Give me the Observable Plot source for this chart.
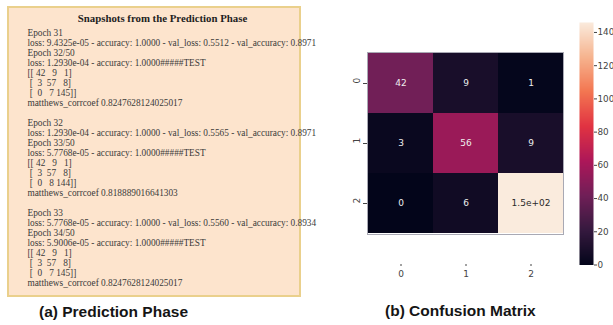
<!DOCTYPE html>
<html>
<head>
<meta charset="utf-8">
<script src="https://cdn.jsdelivr.net/npm/d3@7"></script>
<script src="https://cdn.jsdelivr.net/npm/@observablehq/plot@0.6"></script>
<style>
  body { margin: 0; background: #fff; }
  #wrap { position: relative; width: 613px; height: 325px; overflow: hidden; font-family: "Liberation Sans", Arial, sans-serif; }
  .panel { position: absolute; }
  #logbox { left: 7px; top: 6px; width: 290px; height: 287px; background: #fde4cd; border: 2px solid #ead08c; }
  .cap { position: absolute; font-weight: bold; font-size: 15.5px; color: #151515; white-space: nowrap; }
</style>
</head>
<body>
<div id="wrap">
  <div id="logbox" class="panel"></div>
  <div id="heat" class="panel" style="left:330px;top:0"></div>
  <div id="bar" class="panel" style="left:565px;top:0"></div>
  <div class="cap" style="left:39px;top:303px">(a) Prediction Phase</div>
  <div class="cap" style="left:385px;top:302px">(b) Confusion Matrix</div>
</div>
<script>
// Training log excerpt shown in the left panel
const logTitle = "Snapshots from the Prediction Phase";
const logLines = [
  "Epoch 31",
  "loss: 9.4325e-05 - accuracy: 1.0000 - val_loss: 0.5512 - val_accuracy: 0.8971",
  "Epoch 32/50",
  "loss: 1.2930e-04 - accuracy: 1.0000#####TEST",
  "[[ 42   9   1]",
  " [  3  57   8]",
  " [  0   7 145]]",
  "matthews_corrcoef 0.8247628124025017",
  "",
  "Epoch 32",
  "loss: 1.2930e-04 - accuracy: 1.0000 - val_loss: 0.5565 - val_accuracy: 0.8971",
  "Epoch 33/50",
  "loss: 5.7768e-05 - accuracy: 1.0000#####TEST",
  "[[ 42   9   1]",
  " [  3  57   8]",
  " [  0   8 144]]",
  "matthews_corrcoef 0.818889016641303",
  "",
  "Epoch 33",
  "loss: 5.7768e-05 - accuracy: 1.0000 - val_loss: 0.5560 - val_accuracy: 0.8934",
  "Epoch 34/50",
  "loss: 5.9006e-05 - accuracy: 1.0000#####TEST",
  "[[ 42   9   1]",
  " [  3  57   8]",
  " [  0   7 145]]",
  "matthews_corrcoef 0.8247628124025017"
];

// Confusion matrix (rows: actual class, columns: predicted class)
const classes = [0, 1, 2];
const matrix = [
  [42, 9, 1],
  [3, 56, 9],
  [0, 6, 146]
];
const colorTicks = [0, 20, 40, 60, 80, 100, 120, 140];

// "rocket" colour map stops
const rocketStops = ["#03051a", "#35193e", "#701f57", "#ad1759", "#e13342", "#f37651", "#f6b48f", "#faebdd"];
const rocket = d3.piecewise(d3.interpolateRgb, rocketStops);

const cells = matrix.flatMap((row, i) => row.map((value, j) => ({actual: classes[i], predicted: classes[j], value})));
const vmax = d3.max(cells, d => d.value);

// annotation format in the style of Python's ".2g"
function g2(v) {
  if (v === 0) return "0";
  const e = Math.floor(Math.log10(Math.abs(v)));
  if (e >= 2 || e < -4) {
    const [m, ex] = v.toExponential(1).split("e");
    return m + "e" + ex[0] + ex.slice(1).padStart(2, "0");
  }
  return String(+v.toPrecision(2));
}

const svgStyle = {background: "transparent", overflow: "visible", maxWidth: "none"};

// Left panel: the log text
const logPlot = Plot.plot({
  width: 290, height: 287,
  marginTop: 17, marginBottom: 4, marginLeft: 18, marginRight: 2,
  x: {axis: null, domain: [0, 1]},
  y: {type: "point", padding: 0, domain: d3.range(logLines.length), axis: null},
  style: {...svgStyle, fontFamily: "'Liberation Serif', 'Times New Roman', serif", fontSize: "9.3px"},
  marks: [
    Plot.text([logTitle], {frameAnchor: "top", dy: -11, fontWeight: "bold", fontSize: 10.8, fill: "#1e1e1e"}),
    Plot.text(logLines, {y: (d, i) => i, frameAnchor: "left", textAnchor: "start", text: d => d.replace(/ /g, "\u00a0"), fill: "#3a3a3a"})
  ]
});
document.getElementById("logbox").append(logPlot);

// Right panel: heatmap
const heat = Plot.plot({
  width: 238, height: 290,
  marginLeft: 37, marginRight: 5, marginTop: 52, marginBottom: 56,
  x: {domain: classes, padding: 0, label: null},
  y: {domain: classes, padding: 0, label: null},
  color: {type: "linear", domain: [0, vmax], interpolate: rocket},
  style: {...svgStyle, fontFamily: "'DejaVu Sans', sans-serif", fontSize: "9px", color: "#444"},
  marks: [
    Plot.cell(cells, {x: "predicted", y: "actual", fill: "value"}),
    Plot.text(cells, {filter: d => d.value <= vmax * 0.6, x: "predicted", y: "actual", text: d => g2(d.value), fill: "#eeeeee"}),
    Plot.text(cells, {filter: d => d.value > vmax * 0.6, x: "predicted", y: "actual", text: d => g2(d.value), fill: "#2a2a2a"}),
    Plot.frame({stroke: "#a9a9b4", strokeWidth: 1}),
    Plot.axisY({tickSize: 4, text: null, label: null}),
    Plot.text(classes, {y: d => d, text: d => String(d), frameAnchor: "left", rotate: -90, dx: -10, fill: "#444"}),
    Plot.axisX({tickSize: 2, tickPadding: 4, dy: 30, label: null})
  ]
});
document.getElementById("heat").append(heat);

// Colour bar
const bar = Plot.plot({
  width: 48, height: 275,
  marginLeft: 14, marginRight: 20, marginTop: 22, marginBottom: 10.5,
  x: {axis: null, domain: [0, 1]},
  y: {domain: [0, vmax], label: null, axis: null},
  color: {type: "linear", domain: [0, vmax], interpolate: rocket},
  style: {...svgStyle, fontFamily: "'DejaVu Sans', sans-serif", fontSize: "8.8px", color: "#444"},
  marks: [
    Plot.raster({x1: 0, x2: 1, y1: 0, y2: vmax, fill: (x, y) => y, pixelSize: 1}),
    Plot.axisY(colorTicks, {anchor: "right", tickSize: 3, tickPadding: 1, label: null})
  ]
});
document.getElementById("bar").append(bar);
</script>
</body>
</html>
